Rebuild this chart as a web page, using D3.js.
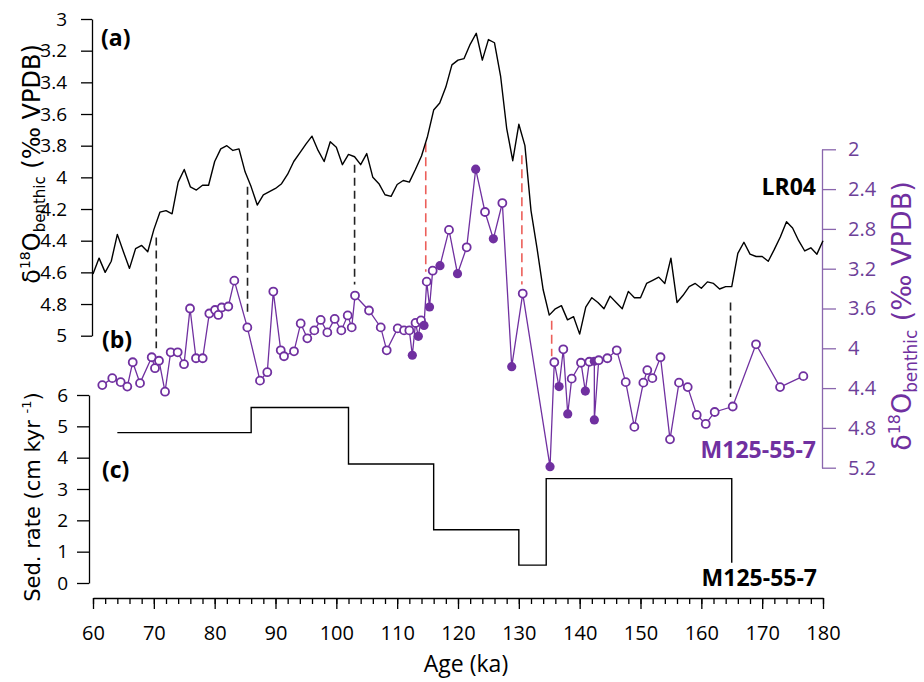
<!DOCTYPE html>
<html><head><meta charset="utf-8">
<script src="https://cdn.jsdelivr.net/npm/d3@7"></script>
<style>body{margin:0;background:#fff}</style>
</head><body>
<svg id="chart" width="924" height="682"></svg>
<script>
// ---------- DATA ----------
const lr04Age = d3.range(60, 181, 1);
const lr04Val = [4.61,4.51,4.60,4.53,4.36,4.47,4.575,4.45,4.43,4.47,
  4.33,4.22,4.21,4.23,4.03,3.95,4.06,4.08,4.05,4.05,
  3.90,3.82,3.80,3.83,3.82,3.965,4.06,4.175,4.11,4.09,
  4.07,4.04,3.98,3.90,3.845,3.79,3.74,3.83,3.90,3.775,
  3.81,3.92,3.855,3.87,3.92,3.85,4.00,4.04,4.11,4.12,
  4.045,4.02,4.03,3.95,3.865,3.74,3.575,3.53,3.43,3.29,
  3.26,3.25,3.16,3.09,3.26,3.13,3.15,3.36,3.69,3.895,
  3.665,3.80,4.21,4.45,4.71,4.87,4.83,4.81,4.90,4.88,
  4.99,4.82,4.76,4.79,4.83,4.75,4.79,4.83,4.72,4.76,
  4.76,4.67,4.65,4.63,4.67,4.51,4.79,4.745,4.69,4.67,
  4.70,4.66,4.67,4.705,4.69,4.69,4.48,4.41,4.485,4.50,
  4.50,4.53,4.455,4.375,4.28,4.32,4.40,4.465,4.445,4.485,4.40];

const m125Age = [61.53,63.17,64.55,65.64,66.53,67.73,69.65,70.19,70.85,71.84,
  72.77,73.92,74.96,75.95,76.93,78.03,79.12,80.06,80.60,81.16,
  82.24,83.23,85.37,87.45,88.65,89.64,90.86,91.40,93.04,94.14,
  95.23,96.38,97.43,98.52,99.73,100.82,101.87,102.53,103.07,105.37,
  107.30,108.28,110.09,111.13,112.00,112.49,113.02,113.48,113.92,114.41,
  114.86,115.32,115.84,117.04,118.52,119.92,121.43,122.91,124.44,125.81,
  127.29,128.83,130.64,135.13,135.83,136.61,137.31,138.04,138.69,140.22,
  140.93,141.59,142.41,142.41,143.13,144.55,146.09,147.57,148.99,150.47,
  151.12,151.95,153.29,154.85,156.33,157.76,159.24,160.72,162.20,165.16,
  168.99,172.94,176.77];
const m125Val = [4.37,4.30,4.34,4.385,4.14,4.35,4.09,4.20,4.125,4.436,
  4.04,4.04,4.16,3.60,4.10,4.10,3.65,3.615,3.665,3.59,
  3.58,3.32,3.79,4.325,4.24,3.43,4.02,4.08,4.03,3.75,
  3.90,3.82,3.715,3.84,3.705,3.82,3.67,3.79,3.47,3.62,
  3.79,4.02,3.80,3.82,3.82,4.07,3.745,3.88,3.72,3.77,
  3.33,3.585,3.22,3.17,2.81,3.25,2.985,2.20,2.63,2.90,
  2.54,4.185,3.45,5.19,4.14,4.385,4.01,4.66,4.305,4.145,
  4.43,4.135,4.13,4.72,4.12,4.10,4.02,4.34,4.79,4.345,
  4.22,4.30,4.09,4.915,4.345,4.39,4.67,4.76,4.64,4.585,
  3.96,4.39,4.28];
const m125Filled = [0,0,0,0,0,0,0,0,0,0, 0,0,0,0,0,0,0,0,0,0,
  0,0,0,0,0,0,0,0,0,0, 0,0,0,0,0,0,0,0,0,0,
  0,0,0,0,0,1,0,1,0,1, 0,1,0,1,0,1,0,1,0,1,
  0,1,0,1,0,1,0,1,0,0, 1,0,1,1,0,0,0,0,0,0,
  0,0,0,0,0,0,0,0,0,0, 0,0,0];

const stepEdges = [64, 86, 102, 116, 130, 134.5, 165];
const stepRates = [4.8, 5.6, 3.8, 1.7, 0.57, 3.33];
const stepEndRate = 0.65;

const tieAge    = [70.4, 85.4, 103.0, 164.8, 114.7, 130.5, 135.4];
const tieTop    = [4.38, 4.06, 3.92, 4.79, 3.785, 3.86, 4.905];   // LR04 scale
const tieBottom = [4.00, 3.665, 3.36, 4.49, 3.23, 3.36, 4.08];    // M125 scale
const tieKind   = ["k","k","k","k","r","r","r"];

const xTicks = d3.range(60, 181, 10);
const xMinor = d3.range(60, 181, 2);
const lrTicks = [3,3.2,3.4,3.6,3.8,4,4.2,4.4,4.6,4.8,5];
const m125Ticks = [2,2.4,2.8,3.2,3.6,4,4.4,4.8,5.2];
const sedTicks = [0,1,2,3,4,5,6];

// ---------- SETUP ----------
const PURPLE = "#7030a0", PAXIS = "#8a66ad", RED = "#ec5f5a";
const svg = d3.select("#chart");
const x  = d3.scaleLinear([60,180],[93,823]);
const yA = d3.scaleLinear([3,5],[19,335.7]);
const yB = d3.scaleLinear([2,5.2],[149.3,467.7]);
const yC = d3.scaleLinear([0,6],[583,395]);
const fmt = d => String(+d.toFixed(1));

function styleAxis(g, color, fs){
  g.selectAll("path,line").attr("stroke", color).attr("stroke-width", 1.3);
  g.selectAll("text").attr("fill", color).style("font-family","'Open Sans',sans-serif").style("font-size", fs+"px");
}

// Left axis (a)
svg.append("g").attr("transform","translate(92,0)")
  .call(d3.axisLeft(yA).tickValues(lrTicks).tickFormat(fmt).tickSize(11).tickSizeOuter(0).tickPadding(14))
  .call(g=>styleAxis(g,"#000",19));
// Sed-rate axis (c)
svg.append("g").attr("transform","translate(89,0)")
  .call(d3.axisLeft(yC).tickValues(sedTicks).tickFormat(fmt).tickSize(12).tickSizeOuter(0).tickPadding(9))
  .call(g=>styleAxis(g,"#000",19));
// Right purple axis
svg.append("g").attr("transform","translate(822,0)")
  .call(d3.axisRight(yB).tickValues(m125Ticks).tickFormat(fmt).tickSize(14).tickSizeOuter(0).tickPadding(12))
  .call(g=>styleAxis(g,PAXIS,20))
  .call(g=>g.selectAll("text").attr("fill", "#6d3f98"));
// Bottom axis
svg.append("g").attr("transform","translate(0,598)")
  .call(d3.axisBottom(x).tickValues(xMinor).tickFormat("").tickSize(6).tickSizeOuter(0))
  .call(g=>styleAxis(g,"#000",20));
svg.append("g").attr("transform","translate(0,598)")
  .call(d3.axisBottom(x).tickValues(xTicks).tickFormat(d3.format("d")).tickSize(11).tickSizeOuter(0).tickPadding(17))
  .call(g=>styleAxis(g,"#000",20))
  .call(g=>g.select(".domain").remove());

// Tie lines
tieAge.forEach((a,i)=>{
  svg.append("line")
    .attr("x1", x(a)).attr("x2", x(a))
    .attr("y1", yA(tieTop[i])).attr("y2", yB(tieBottom[i]))
    .attr("stroke", tieKind[i]==="k" ? "#222" : RED)
    .attr("stroke-width", 1.6)
    .attr("stroke-dasharray", tieKind[i]==="k" ? "8,5" : "9,5");
});

// LR04 line
svg.append("path")
  .datum(lr04Age.map((a,i)=>[a, lr04Val[i]]))
  .attr("fill","none").attr("stroke","#000").attr("stroke-width",1.4).attr("stroke-linejoin","round")
  .attr("d", d3.line().x(d=>x(d[0])).y(d=>yA(d[1])));

// M125 line & markers
const m125 = m125Age.map((a,i)=>({a, v:m125Val[i], f:m125Filled[i]}));
svg.append("path").datum(m125)
  .attr("fill","none").attr("stroke",PURPLE).attr("stroke-width",1.3)
  .attr("d", d3.line().x(d=>x(d.a)).y(d=>yB(d.v)));
svg.append("g").selectAll("circle").data(m125).join("circle")
  .attr("cx", d=>x(d.a)).attr("cy", d=>yB(d.v))
  .attr("r", d=>d.f ? 4.6 : 4.0)
  .attr("fill", d=>d.f ? PURPLE : "#fff")
  .attr("stroke", PURPLE).attr("stroke-width", d=>d.f ? 0 : 1.8);

// Sed rate step
const stepPts = [];
stepRates.forEach((r,i)=>{ stepPts.push([stepEdges[i], r]); stepPts.push([stepEdges[i+1], r]); });
stepPts.push([stepEdges[stepEdges.length-1], stepEndRate]);
svg.append("path").datum(stepPts)
  .attr("fill","none").attr("stroke","#000").attr("stroke-width",1.4)
  .attr("d", d3.line().x(d=>x(d[0])).y(d=>yC(d[1])));

// Labels
const bold = (t, X, Y, color, fs, anchor) => svg.append("text").text(t)
  .attr("x",X).attr("y",Y).attr("fill",color).attr("text-anchor",anchor||"start")
  .style("font-family","'Open Sans',sans-serif").style("font-weight","700").style("font-size",fs+"px");
bold("(a)", 101, 46, "#000", 23);
bold("(b)", 102, 348, "#000", 23);
bold("(c)", 102, 478, "#000", 23);
bold("LR04", 816, 195, "#000", 23, "end");
bold("M125-55-7", 816, 458, PURPLE, 23, "end");
bold("M125-55-7", 817, 586, "#000", 23, "end");

// X title
svg.append("text").text("Age (ka)").attr("x",466).attr("y",672).attr("text-anchor","middle")
  .style("font-family","'Open Sans',sans-serif").style("font-size","23px");

// Rotated δ18O titles
function d18Title(X, Y, color, fs){
  const t = svg.append("text").attr("transform",`translate(${X},${Y}) rotate(-90)`)
    .attr("text-anchor","middle").attr("fill",color)
    .style("font-family","'DejaVu Sans',sans-serif").style("font-size",fs+"px");
  const s = fs/24;
  t.append("tspan").text("δ");
  t.append("tspan").text("18").style("font-size",(14*s)+"px").attr("dy",-10*s);
  t.append("tspan").text("O").attr("dy",10*s);
  t.append("tspan").text("benthic").style("font-size",(15*s)+"px").attr("dy",5*s);
  t.append("tspan").text(" (‰ VPDB)").attr("dy",-5*s);
}
d18Title(40, 164, "#000", 24);
d18Title(911, 316, PURPLE, 27);

const sr = svg.append("text").attr("transform","translate(40,497) rotate(-90)")
  .attr("text-anchor","middle").attr("fill","#000")
  .style("font-family","'DejaVu Sans',sans-serif").style("font-size","21px");
sr.append("tspan").text("Sed. rate (cm kyr ");
sr.append("tspan").text("-1").style("font-size","13px").attr("dy",-9);
sr.append("tspan").text(")").attr("dy",9);
</script>
</body></html>
